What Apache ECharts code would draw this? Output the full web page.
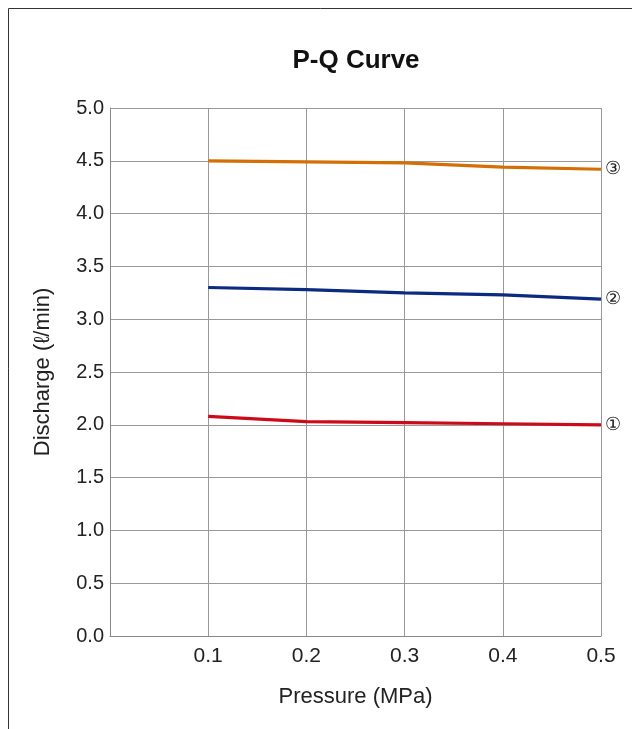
<!DOCTYPE html>
<html>
<head>
<meta charset="utf-8">
<script src="https://cdn.jsdelivr.net/npm/echarts@6/dist/echarts.min.js"></script>
<style>
html,body{margin:0;padding:0;background:#fff;}
#chart{width:638px;height:729px;}
</style>
</head>
<body>
<div id="chart"></div>
<script>
const pressure = [0.1, 0.2, 0.3, 0.4, 0.5];
const series1 = [2.08, 2.03, 2.02, 2.01, 2.00];
const series2 = [3.30, 3.28, 3.25, 3.23, 3.19];
const series3 = [4.50, 4.49, 4.48, 4.44, 4.42];
const seriesNames = ['①', '②', '③'];

const chart = echarts.init(document.getElementById('chart'));
const font = 'Liberation Sans, Arial, sans-serif';
function mk(name, vals, color) {
  return {
    name: name,
    type: 'line',
    data: pressure.map((p, i) => [p, vals[i]]),
    symbol: 'none',
    lineStyle: { color: color, width: 3.2 },
    itemStyle: { color: color },
    endLabel: {
      show: true,
      formatter: name,
      color: '#222',
      fontSize: 18,
      fontFamily: font,
      distance: 4
    },
    animation: false
  };
}
chart.setOption({
  animation: false,
  backgroundColor: '#fff',
  title: {
    text: 'P-Q Curve',
    left: 351, top: 43, textAlign: 'center',
    textStyle: { fontFamily: font, fontSize: 26, fontWeight: 'bold', color: '#111' }
  },
  grid: { left: 110, right: 37, top: 108, bottom: 93, containLabel: false },
  xAxis: {
    type: 'value', min: 0, max: 0.5, interval: 0.1,
    name: 'Pressure (MPa)', nameLocation: 'middle', nameGap: 50,
    nameTextStyle: { fontFamily: font, fontSize: 22, color: '#222' },
    axisLine: { show: true, lineStyle: { color: '#888', width: 1 } },
    axisTick: { show: false },
    splitLine: { show: true, lineStyle: { color: '#999', width: 1 } },
    axisLabel: { showMinLabel: false, fontFamily: font, fontSize: 21, color: '#222', margin: 10,
      formatter: v => v.toFixed(1) }
  },
  yAxis: {
    type: 'value', min: 0, max: 5, interval: 0.5,
    name: 'Discharge (ℓ/min)', nameLocation: 'middle', nameGap: 56,
    nameTextStyle: { fontFamily: font, fontSize: 22, color: '#222' },
    axisLine: { show: true, lineStyle: { color: '#888', width: 1 } },
    axisTick: { show: false },
    splitLine: { show: true, lineStyle: { color: '#999', width: 1 } },
    axisLabel: { fontFamily: font, fontSize: 20, color: '#222', margin: 6,
      formatter: v => v.toFixed(1) }
  },
  graphic: [
    { type: 'line', shape: { x1: 8.5, y1: 8.5, x2: 632, y2: 8.5 }, style: { stroke: '#333', lineWidth: 1 } },
    { type: 'line', shape: { x1: 8.5, y1: 8.5, x2: 8.5, y2: 729 }, style: { stroke: '#333', lineWidth: 1 } }
  ],
  series: [
    mk(seriesNames[0], series1, '#cc0a1a'),
    mk(seriesNames[1], series2, '#0b2a82'),
    mk(seriesNames[2], series3, '#d46f06')
  ]
});
</script>
</body>
</html>
